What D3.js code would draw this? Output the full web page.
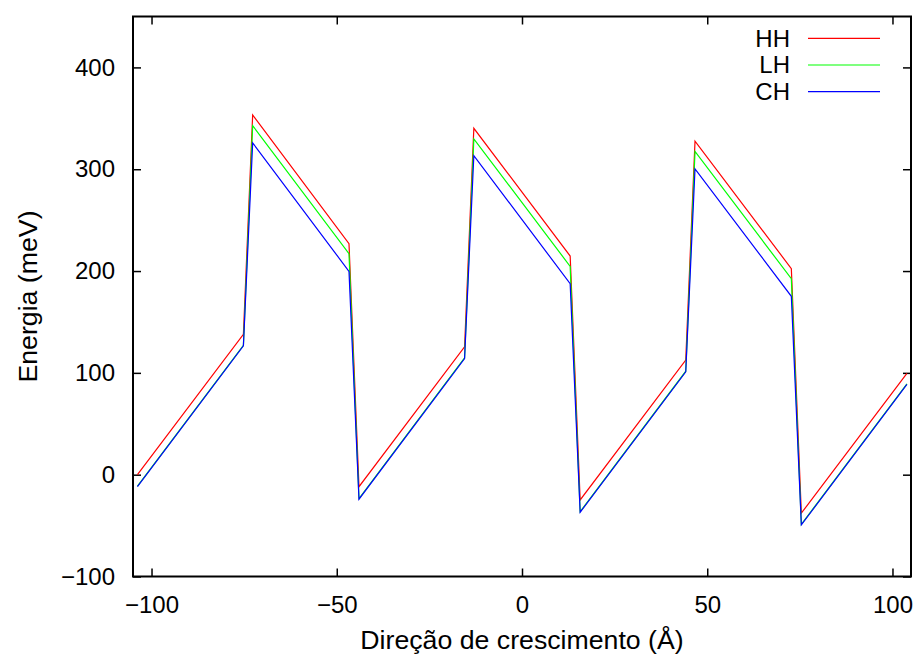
<!DOCTYPE html>
<html>
<head>
<meta charset="utf-8">
<script src="https://cdn.jsdelivr.net/npm/d3@7"></script>
<style>
  html, body { margin: 0; padding: 0; background: #fff; }
  svg { display: block; }
  text { font-family: "Liberation Sans", Arial, Helvetica, sans-serif; }
</style>
</head>
<body>
<svg id="chart" width="922" height="659"></svg>
<script>
// Growth-direction positions (Å) of the band-edge vertices
const positions = [-103.8, -75.2, -72.7, -46.7, -44.0, -15.5, -13.0, 13.0, 15.7, 44.2, 46.7, 72.7, 75.4, 103.9];

// Valence-band edges (meV) for heavy, light and crystal-field split-off holes
const hh = [0, 137.9, 353.3, 226.9, -11.8, 125.5, 340.2, 214.7, -24.8, 112.5, 327.5, 202.4, -37.8, 99.4];
const lh = [-11.2, 127.1, 342.8, 217.0, -23.5, 114.7, 329.8, 204.6, -36.3, 101.6, 317.4, 192.5, -48.7, 89.2];
const ch = [-11.8, 126.5, 325.9, 199.7, -24.1, 114.1, 313.4, 187.6, -36.9, 101.0, 300.4, 175.2, -49.3, 88.6];

const seriesNames = ["HH", "LH", "CH"];
const seriesColors = ["#ff0000", "#00ff00", "#0000ff"];
const xTicks = [-100, -50, 0, 50, 100];
const yTicks = [-100, 0, 100, 200, 300, 400];

(function () {
  const svg = d3.select("#chart");
  const pl = 133, pr = 911, pt = 16.5, pb = 576.5;

  const x = d3.scaleLinear().domain([-105, 105]).range([pl, pr]);
  const y = d3.scaleLinear().domain([-100, 450]).range([pb, pt]);

  const tickLen = 8;
  const fontSize = 24;
  const titleSize = 26.7;

  // Axes with inward ticks on all four sides
  const gx = svg.append("g").attr("transform", `translate(0,${pb})`)
    .call(d3.axisBottom(x).tickValues(xTicks).tickSizeInner(-tickLen).tickSizeOuter(0).tickPadding(19));
  const gy = svg.append("g").attr("transform", `translate(${pl},0)`)
    .call(d3.axisLeft(y).tickValues(yTicks).tickSizeInner(-tickLen).tickSizeOuter(0).tickPadding(18));
  const gt = svg.append("g").attr("transform", `translate(0,${pt})`)
    .call(d3.axisTop(x).tickValues(xTicks).tickSizeInner(-tickLen).tickSizeOuter(0).tickFormat(""));
  const gr = svg.append("g").attr("transform", `translate(${pr},0)`)
    .call(d3.axisRight(y).tickValues(yTicks).tickSizeInner(-tickLen).tickSizeOuter(0).tickFormat(""));

  [gx, gy, gt, gr].forEach(g => {
    g.select(".domain").remove();
    g.selectAll(".tick line").attr("stroke", "#000").attr("stroke-width", 1.5);
    g.selectAll(".tick text").attr("font-size", fontSize).attr("fill", "#000")
      .attr("font-family", "'Liberation Sans', Arial, Helvetica, sans-serif");
  });

  // Series
  const data = [hh, lh, ch];
  const line = d3.line().x(d => x(d[0])).y(d => y(d[1]));
  data.forEach((vals, i) => {
    svg.append("path")
      .datum(positions.map((p, j) => [p, vals[j]]))
      .attr("fill", "none")
      .attr("stroke", seriesColors[i])
      .attr("stroke-width", 1.2)
      .attr("d", line);
  });

  // Frame
  svg.append("rect")
    .attr("x", pl).attr("y", pt)
    .attr("width", pr - pl).attr("height", pb - pt)
    .attr("fill", "none").attr("stroke", "#000").attr("stroke-width", 2);

  // Legend
  const legY = [38.3, 65, 91.7];
  seriesNames.forEach((name, i) => {
    svg.append("text")
      .attr("x", 790).attr("y", legY[i])
      .attr("dy", "0.35em")
      .attr("text-anchor", "end")
      .attr("font-size", fontSize)
      .text(name);
    svg.append("line")
      .attr("x1", 808).attr("x2", 880)
      .attr("y1", legY[i]).attr("y2", legY[i])
      .attr("stroke", seriesColors[i]).attr("stroke-width", 1.2);
  });

  // Axis titles
  svg.append("text")
    .attr("x", (pl + pr) / 2).attr("y", 649)
    .attr("text-anchor", "middle")
    .attr("font-size", titleSize)
    .text("Direção de crescimento (Å)");

  svg.append("text")
    .attr("transform", `translate(37,${(pt + pb) / 2}) rotate(-90)`)
    .attr("text-anchor", "middle")
    .attr("font-size", titleSize)
    .text("Energia (meV)");
})();
</script>
</body>
</html>
